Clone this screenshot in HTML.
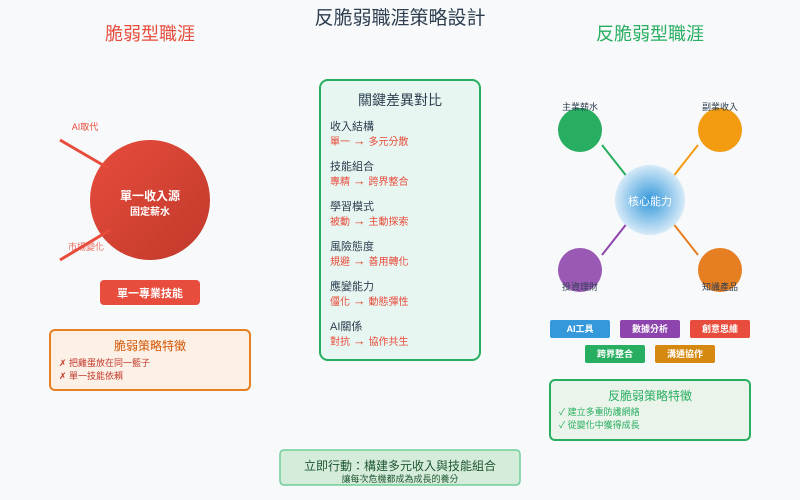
<!DOCTYPE html>
<html><head><meta charset="utf-8"><style>
html,body{margin:0;padding:0;background:#f8f9fa;}
svg{display:block;font-family:"Liberation Sans","Noto Sans CJK TC",sans-serif;}
</style></head><body>
<svg width="800" height="500" viewBox="0 0 800 500" xmlns="http://www.w3.org/2000/svg">
<defs>
<linearGradient id="rg" x1="0" y1="0" x2="1" y2="1"><stop offset="0" stop-color="#e74c3c"/><stop offset="1" stop-color="#c0392b"/></linearGradient>
<radialGradient id="cg"><stop offset="0" stop-color="#3498db"/><stop offset="1" stop-color="#d6eaf8"/></radialGradient>
</defs>
<rect width="800" height="500" fill="#f8f9fa"/>
<text x="400" y="24" text-anchor="middle" font-size="19" fill="#2c3e50">反脆弱職涯策略設計</text>
<text x="150" y="40" text-anchor="middle" font-size="18" fill="#e74c3c">脆弱型職涯</text>
<text x="650" y="40" text-anchor="middle" font-size="18" fill="#27ae60">反脆弱型職涯</text>

<!-- left -->
<text x="85" y="130" text-anchor="middle" font-size="9" fill="#e74c3c">AI取代</text>
<circle cx="150" cy="200" r="60" fill="url(#rg)"/>
<line x1="60" y1="140" x2="108" y2="168" stroke="#e74c3c" stroke-width="3"/>
<line x1="60" y1="260" x2="110" y2="230" stroke="#e74c3c" stroke-width="3"/>
<text x="86" y="250" text-anchor="middle" font-size="9" fill="#e74c3c" opacity="0.8">市場變化</text>
<text x="150" y="200" text-anchor="middle" font-size="12" fill="#fff" font-weight="bold">單一收入源</text>
<text x="150" y="215" text-anchor="middle" font-size="10" fill="#fff" font-weight="bold">固定薪水</text>
<rect x="100" y="280" width="100" height="25" rx="4" fill="#e74c3c"/>
<text x="150" y="297" text-anchor="middle" font-size="11" fill="#fff" font-weight="bold">單一專業技能</text>
<rect x="50" y="330" width="200" height="60" rx="5" fill="#fdf0e6" stroke="#e67e22" stroke-width="2"/>
<text x="150" y="350" text-anchor="middle" font-size="12" fill="#d35400">脆弱策略特徵</text>
<text x="59" y="366" font-size="9" fill="#c0392b">✗ 把雞蛋放在同一籃子</text>
<text x="59" y="379" font-size="9" fill="#c0392b">✗ 單一技能依賴</text>

<!-- middle -->
<rect x="320" y="80" width="160" height="280" rx="8" fill="#e8f6f1" stroke="#27ae60" stroke-width="2"/>
<text x="400" y="105" text-anchor="middle" font-size="14" fill="#2c3e50">關鍵差異對比</text>
<g font-size="11" fill="#2c3e50">
<text x="330" y="130">收入結構</text><text x="330" y="170">技能組合</text><text x="330" y="210">學習模式</text>
<text x="330" y="250">風險態度</text><text x="330" y="290">應變能力</text><text x="330" y="330">AI關係</text>
</g>
<g font-size="10" fill="#e74c3c">
<text x="330" y="145">單一 <tspan font-size="13">→</tspan> 多元分散</text><text x="330" y="185">專精 <tspan font-size="13">→</tspan> 跨界整合</text>
<text x="330" y="225">被動 <tspan font-size="13">→</tspan> 主動探索</text><text x="330" y="265">規避 <tspan font-size="13">→</tspan> 善用轉化</text>
<text x="330" y="305">僵化 <tspan font-size="13">→</tspan> 動態彈性</text><text x="330" y="345">對抗 <tspan font-size="13">→</tspan> 協作共生</text>
</g>

<!-- right -->
<line x1="602" y1="145" x2="628" y2="178" stroke="#27ae60" stroke-width="2"/>
<line x1="698" y1="145" x2="672" y2="178" stroke="#f39c12" stroke-width="2"/>
<line x1="628" y1="222" x2="602" y2="255" stroke="#8e44ad" stroke-width="2"/>
<line x1="672" y1="222" x2="698" y2="255" stroke="#e67e22" stroke-width="2"/>
<circle cx="650" cy="200" r="35" fill="url(#cg)"/>
<text x="650" y="205" text-anchor="middle" font-size="11" fill="#fff">核心能力</text>
<circle cx="580" cy="130" r="22" fill="#27ae60"/>
<circle cx="720" cy="130" r="22" fill="#f39c12"/>
<circle cx="580" cy="270" r="22" fill="#9b59b6"/>
<circle cx="720" cy="270" r="22" fill="#e67e22"/>
<g font-size="9" fill="#2c3e50" text-anchor="middle">
<text x="580" y="110">主業薪水</text><text x="720" y="110">副業收入</text>
<text x="580" y="290">投資理財</text><text x="720" y="290">知識產品</text>
</g>
<g font-size="9" fill="#fff" text-anchor="middle" font-weight="bold">
<rect x="550" y="320" width="60" height="18" rx="2" fill="#3498db"/><text x="580" y="332">AI工具</text>
<rect x="620" y="320" width="60" height="18" rx="2" fill="#8e44ad"/><text x="650" y="332">數據分析</text>
<rect x="690" y="320" width="60" height="18" rx="2" fill="#e74c3c"/><text x="720" y="332">創意思維</text>
<rect x="585" y="345" width="60" height="18" rx="2" fill="#27ae60"/><text x="615" y="357">跨界整合</text>
<rect x="655" y="345" width="60" height="18" rx="2" fill="#d68910"/><text x="685" y="357">溝通協作</text>
</g>
<rect x="550" y="380" width="200" height="60" rx="5" fill="#eaf4ea" stroke="#27ae60" stroke-width="2"/>
<text x="650" y="400" text-anchor="middle" font-size="12" fill="#27ae60">反脆弱策略特徵</text>
<text x="559" y="415" font-size="9" fill="#27ae60">✓ 建立多重防護網絡</text>
<text x="559" y="428" font-size="9" fill="#27ae60">✓ 從變化中獲得成長</text>

<!-- bottom -->
<rect x="280" y="450" width="240" height="35" rx="4" fill="#d5ecda" stroke="#6fcf97" stroke-width="1.5"/>
<text x="400" y="470" text-anchor="middle" font-size="12" fill="#1e5631">立即行動：構建多元收入與技能組合</text>
<text x="400" y="482" text-anchor="middle" font-size="9" fill="#1e5631">讓每次危機都成為成長的養分</text>
</svg>
</body></html>
